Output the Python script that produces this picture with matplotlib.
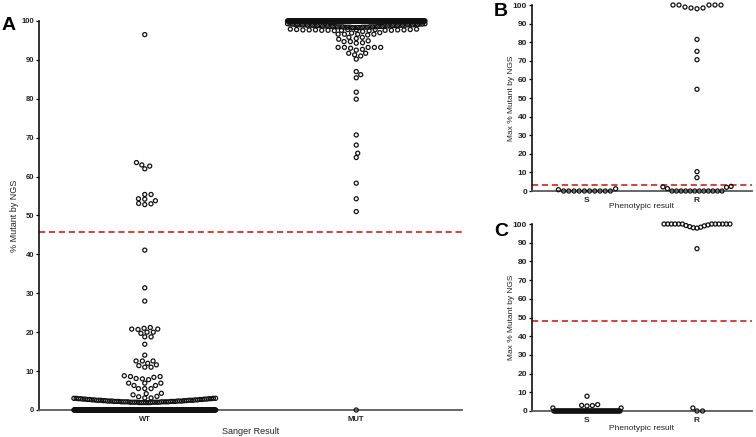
import numpy as np
import matplotlib
matplotlib.use("Agg")
import matplotlib.pyplot as plt

plt.rcParams["font.family"] = ["Liberation Sans", "DejaVu Sans"]

# ---------------- Panel A: Sanger result vs % mutant by NGS ----------------
A_CATEGORIES = ["WT", "MUT"]
A_CUTOFF = 45.7

WT_ZERO_N = 300          # WT samples at 0 % (solid bar on the axis)
WT_LOW_ROW = [1.9, 1.9, 1.9, 1.9, 1.9, 1.9, 2.0, 2.0, 2.0, 2.0, 2.0, 2.0,
              2.0, 2.0, 2.1, 2.1, 2.1, 2.1, 2.1, 2.1, 2.1, 2.1, 2.2, 2.2,
              2.2, 2.2, 2.2, 2.2, 2.3, 2.3, 2.3, 2.3, 2.3, 2.3, 2.4, 2.4,
              2.4, 2.4, 2.5, 2.5, 2.5, 2.5, 2.5, 2.5, 2.6, 2.6, 2.6, 2.6,
              2.7, 2.7, 2.7, 2.7, 2.8, 2.8, 2.8, 2.8, 2.9, 2.9, 2.9, 2.9,
              3.0, 3.0, 3.0, 3.0]
WT_SPREAD = [96.5,
             63.6, 63.0, 62.7, 62.0,
             55.4, 55.4, 54.3, 54.2, 53.8, 53.1, 53.0, 52.8,
             41.1, 31.4, 28.0,
             21.2, 21.0, 20.8, 20.8, 20.7, 20.0, 20.0, 19.7, 18.8, 18.8,
             16.9, 14.1,
             12.6, 12.6, 12.6, 12.0, 11.6, 11.4, 11.0, 11.0,
             8.8, 8.6, 8.6, 8.4, 8.1, 8.0, 7.8,
             6.9, 6.9, 6.9, 6.3, 6.3, 5.5, 5.5, 5.5,
             4.3, 4.2, 3.9, 3.5, 3.4, 3.1, 3.1]

MUT_FULL_N = 250         # MUT samples at 100 %
MUT_HIGH_ROW = [98.3, 98.3, 98.3, 98.3,
                98.4, 98.4, 98.4, 98.4, 98.4, 98.4,
                98.5, 98.5, 98.5, 98.5, 98.5, 98.5,
                98.6, 98.6, 98.6, 98.6, 98.6, 98.6,
                98.7, 98.7, 98.7, 98.7, 98.7, 98.7,
                98.8, 98.8, 98.8, 98.8, 98.8, 98.8,
                98.9, 98.9, 98.9, 98.9, 98.9, 98.9,
                99.0, 99.0, 99.0, 99.0, 99.0, 99.0,
                99.1, 99.1, 99.1, 99.1, 99.2, 99.2, 99.2, 99.2,
                99.3, 99.3]
MUT_SPREAD = [97.9, 97.9, 97.8, 97.8, 97.8, 97.8, 97.7, 97.7, 97.7, 97.7,
              97.7, 97.7, 97.6, 97.6, 97.6, 97.6, 97.6, 97.5, 97.5,
              97.3, 97.0, 96.9, 96.6, 96.6, 96.6, 96.6, 96.4,
              95.8, 95.8, 95.5, 95.3, 94.9, 94.7, 94.7, 94.4,
              94.3, 93.2, 93.2, 93.2, 93.2, 93.2, 93.0, 92.7, 92.5,
              91.7, 91.7, 91.3, 91.0, 90.2,
              87.0, 86.2, 85.4, 81.7, 79.9,
              70.7, 68.1, 66.0, 64.9, 58.3, 54.3, 51.0,
              0.0]

# ---------------- Panel B: phenotypic result, cutoff low ----------------
PHENO_CATEGORIES = ["S", "R"]
B_CUTOFF = 3.0
B_S_ROW = [1.2, 0, 0, 0, 0, 0, 0, 0, 0, 0, 0, 0.7]
B_R_LOW_ROW = [2.2, 1.3, 0, 0, 0, 0, 0, 0, 0, 0, 0, 0, 0, 0, 2.0, 2.5]
B_R_TOP_ROW = [100, 100, 98.9, 98.4, 98.0, 98.4, 100, 100, 100]
B_R_SPREAD = [7.2, 10.4, 54.7, 70.6, 75.1, 81.5]

# ---------------- Panel C: phenotypic result, cutoff ~48 ----------------
C_CUTOFF = 48.0
C_S_ZERO_N = 60
C_S_ROW_EXTRA = [1.6, 1.6]
C_S_SPREAD = [2.7, 2.9, 3.0, 3.4, 7.9]
C_R_TOP_ROW = [100, 100, 100, 100, 100, 100, 100, 100, 100, 100, 100, 100,
               99.2, 98.6, 98.0, 97.8, 98.3, 99.0, 99.5]
C_R_SPREAD = [86.8, 1.6, 0.0, 0.0]

CUTOFF_COLOR = "#d8413b"
AXIS_GRAY = "#5a5a5a"


def packed_offsets(values, step_px, width_px):
    # one row: smallest values in the middle, squeezed when it gets too wide
    vals = np.sort(np.asarray(values, dtype=float))
    n = len(vals)
    step = step_px if n < 2 else min(step_px, width_px / (n - 1))
    slots = (np.arange(n) - (n - 1) / 2.0) * step
    order = sorted(range(n), key=lambda i: (abs(slots[i]), slots[i]))
    return vals, slots[order]


def swarm_offsets(y_px, dx, dy):
    # place each point as close to the centre as it can go without touching
    xs = np.zeros(len(y_px))
    placed = []
    for i in np.argsort(y_px, kind="stable"):
        y = y_px[i]
        near = [(px, py) for px, py in placed if abs(py - y) < dy]
        cands = [0.0]
        for px, py in near:
            w = dx * np.sqrt(1 - ((py - y) / dy) ** 2)
            cands += [px + w, px - w]
        cands.sort(key=abs)
        best = None
        for c in cands:
            if all(((c - px) / dx) ** 2 + ((py - y) / dy) ** 2 >= 1 - 1e-9 for px, py in near):
                best = c
                break
        if best is None:
            best = max(abs(p[0]) for p in near) + dx
        xs[i] = best
        placed.append((best, y))
    return xs


def draw_column(ax, x, rows, spread, step_px, width, dx_px, dy_px):
    o = ax.transData.transform((0, 0))
    u = ax.transData.transform((1, 1))
    px_x, px_y = u[0] - o[0], u[1] - o[1]
    xs, ys = [], []
    for row in rows:
        vals, offs = packed_offsets(row, step_px, width * px_x)
        xs.append(x + offs / px_x)
        ys.append(vals)
    if len(spread):
        vals = np.asarray(spread, dtype=float)
        offs = swarm_offsets(vals * px_y, dx_px, dy_px)
        xs.append(x + offs / px_x)
        ys.append(vals)
    ax.scatter(np.concatenate(xs), np.concatenate(ys), s=8.5, facecolors="none",
               edgecolors="#111111", linewidths=0.9, clip_on=False, zorder=3)


def style_axes(ax, categories, cutoff, ylabel, xlabel, tick_size, label_size,
               ylab_x, xlab_y):
    ax.set_xlim(-0.5, 1.5)
    ax.set_ylim(0, 100)
    ax.set_yticks(range(0, 101, 10))
    ax.set_xticks([0, 1])
    ax.set_xticklabels(categories)
    for side in ["top", "right"]:
        ax.spines[side].set_visible(False)
    ax.spines["left"].set_linewidth(1.2)
    ax.spines["left"].set_color("#111111")
    ax.spines["bottom"].set_linewidth(1.3)
    ax.spines["bottom"].set_color(AXIS_GRAY)
    ax.tick_params(axis="y", length=2.5, width=0.9, pad=1, labelsize=tick_size)
    ax.tick_params(axis="x", length=0, pad=4, labelsize=tick_size)
    for lab in ax.get_xticklabels() + ax.get_yticklabels():
        lab.set_fontweight("bold")
        lab.set_color("#222222")
    ax.axhline(cutoff, color=CUTOFF_COLOR, lw=1.4, linestyle=(0, (3.2, 1.9)), zorder=2)
    ax.set_ylabel(ylabel, fontsize=label_size, color="#222222")
    ax.set_xlabel(xlabel, fontsize=label_size, color="#222222")
    ax.yaxis.set_label_coords(ylab_x, 0.5)
    ax.xaxis.set_label_coords(0.5, xlab_y)


fig = plt.figure(figsize=(7.56, 4.37), dpi=100)
axA = fig.add_axes([0.0516, 0.0618, 0.5595, 0.8902])
axB = fig.add_axes([0.7037, 0.5629, 0.2910, 0.4256])
axC = fig.add_axes([0.7037, 0.0595, 0.2910, 0.4279])

style_axes(axA, A_CATEGORIES, A_CUTOFF, "% Mutant by NGS", "Sanger Result",
           5.5, 6.5, -0.047, -0.044)
style_axes(axB, PHENO_CATEGORIES, B_CUTOFF, "Max % Mutant by NGS", "Phenotypic result",
           6.0, 6.0, -0.075, -0.065)
style_axes(axC, PHENO_CATEGORIES, C_CUTOFF, "Max % Mutant by NGS", "Phenotypic result",
           6.0, 6.0, -0.075, -0.075)

# panel A
draw_column(axA, 0, [[0.0] * WT_ZERO_N, WT_LOW_ROW], WT_SPREAD,
            step_px=6.3, width=0.67, dx_px=6.3, dy_px=4.4)
draw_column(axA, 1, [[100.0] * MUT_FULL_N, MUT_HIGH_ROW], MUT_SPREAD,
            step_px=6.3, width=0.65, dx_px=6.3, dy_px=4.4)

# panel B
draw_column(axB, 0, [B_S_ROW], [], step_px=5.2, width=0.62, dx_px=5.4, dy_px=4.4)
draw_column(axB, 1, [B_R_LOW_ROW, B_R_TOP_ROW], B_R_SPREAD,
            step_px=6.0, width=0.62, dx_px=5.4, dy_px=4.4)

# panel C
draw_column(axC, 0, [[0.0] * C_S_ZERO_N + C_S_ROW_EXTRA], C_S_SPREAD,
            step_px=5.2, width=0.62, dx_px=5.4, dy_px=4.4)
draw_column(axC, 1, [C_R_TOP_ROW], C_R_SPREAD,
            step_px=5.2, width=0.6, dx_px=5.6, dy_px=4.4)

for letter, (fx, fy) in {"A": (9, 25), "B": (501, 12), "C": (501, 232)}.items():
    fig.text(fx / 756, 1 - fy / 437, letter, fontsize=14, fontweight="bold",
             ha="center", va="center")

fig.savefig("out.png", dpi=100)
